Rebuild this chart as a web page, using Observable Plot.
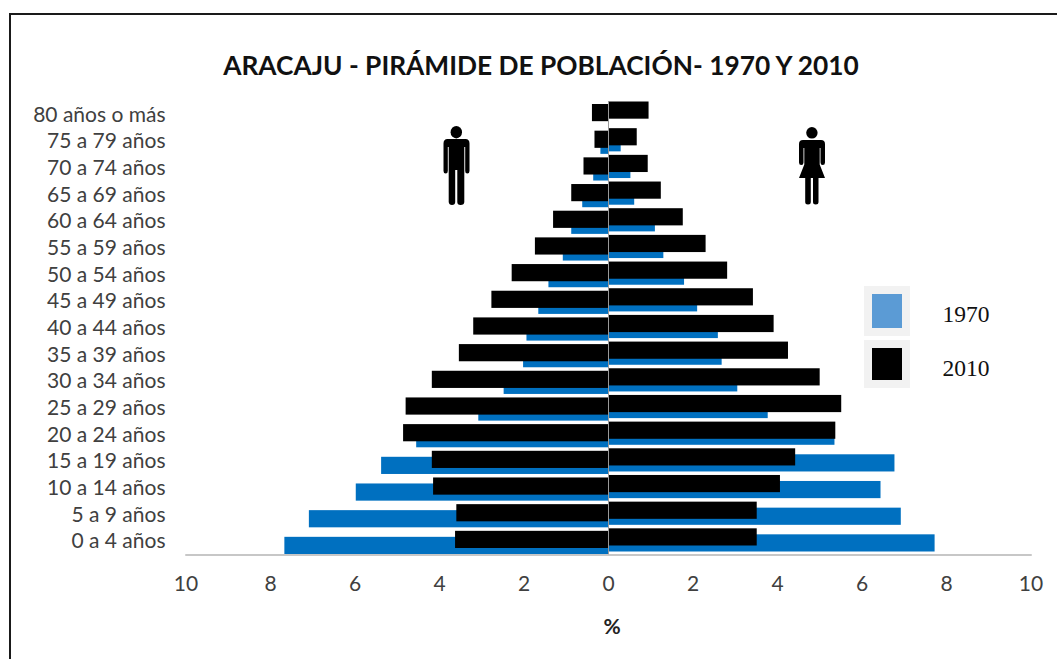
<!DOCTYPE html>
<html><head><meta charset="utf-8">
<script src="https://cdn.jsdelivr.net/npm/d3@7"></script>
<script src="https://cdn.jsdelivr.net/npm/@observablehq/plot@0.6"></script>
<style>
html,body{margin:0;padding:0;background:#fff;}
#wrap{position:relative;width:1057px;height:659px;overflow:hidden;font-family:Lato,sans-serif;}
#wrap svg.plot{position:absolute;left:0;top:0;}
.frame{position:absolute;left:9px;top:13px;width:1060px;height:660px;border:2.5px solid #1a1a1a;box-sizing:border-box;}
.t{position:absolute;white-space:nowrap;transform:translate(-50%,-50%);}
#title{left:541px;top:65px;font-weight:700;font-size:26.3px;color:#111;}
#pct{left:612px;top:625px;font-weight:700;font-size:21px;color:#222;}
.sw{position:absolute;background:#f2f2f2;}
.sw i{position:absolute;display:block;}
.leg{font-family:"Liberation Serif",serif;font-size:23.500px;color:#111;}
.icon{position:absolute;}
</style></head><body>
<div id="wrap"></div>
<script>
const ages = ["80 años o más","75 a 79 años","70 a 74 años","65 a 69 años","60 a 64 años","55 a 59 años","50 a 54 años","45 a 49 años","40 a 44 años","35 a 39 años","30 a 34 años","25 a 29 años","20 a 24 años","15 a 19 años","10 a 14 años","5 a 9 años","0 a 4 años"];
const male1970 = [0,0.18,0.35,0.61,0.87,1.07,1.41,1.65,1.93,2.01,2.47,3.07,4.54,5.37,5.97,7.08,7.66];
const male2010 = [0.38,0.32,0.58,0.87,1.30,1.73,2.28,2.76,3.19,3.53,4.17,4.79,4.85,4.17,4.14,3.59,3.62];
const female1970 = [0,0.30,0.53,0.62,1.11,1.31,1.80,2.11,2.60,2.69,3.06,3.78,5.36,6.78,6.45,6.93,7.73];
const female2010 = [0.96,0.68,0.94,1.25,1.77,2.31,2.82,3.43,3.92,4.26,5.01,5.52,5.38,4.43,4.07,3.52,3.52];
const xTicks = [-10,-8,-6,-4,-2,0,2,4,6,8,10];
const blue = "#0070c0";
const rows = ages.map((age,i)=>({age,m70:-male1970[i],m10:-male2010[i],f70:female1970[i],f10:female2010[i]}));
const chart = Plot.plot({
  width:1057,height:659,
  marginLeft:185.5,marginRight:26.5,marginTop:101,marginBottom:104.5,
  style:{background:"transparent",fontFamily:"Lato,sans-serif"},
  x:{domain:[-10,10]},
  y:{domain:ages,padding:0,round:false},
  marks:[
    Plot.barX(rows,{x:"m70",y:"age",fill:blue,insetTop:9,insetBottom:0.5}),
    Plot.barX(rows,{x:"f70",y:"age",fill:blue,insetTop:6.5,insetBottom:3}),
    Plot.barX(rows,{x:"m10",y:"age",fill:"#000",insetTop:3,insetBottom:6.5}),
    Plot.barX(rows,{x:"f10",y:"age",fill:"#000",insetTop:0.5,insetBottom:9}),
    Plot.ruleX([0],{stroke:"#9a9a9a",strokeWidth:1}),
    Plot.frame({anchor:"bottom",stroke:"#b5b5b5",strokeWidth:1.5}),
    Plot.axisY({tickSize:0,tickPadding:20.5,fontSize:21,color:"#404040",label:null}),
    Plot.axisX({ticks:xTicks,tickSize:0,tickPadding:21,fontSize:21,color:"#404040",label:null,tickFormat:d=>Math.abs(d)})
  ]
});
const w = document.getElementById("wrap");
w.appendChild(chart);
function add(html){w.insertAdjacentHTML("beforeend",html);}
add('<div class="frame"></div>');
add('<div class="t" id="title">ARACAJU - PIRÁMIDE DE POBLACIÓN- 1970 Y 2010</div>');
add('<div class="t" id="pct">%</div>');
add('<div class="sw" style="left:864px;top:286px;width:46px;height:50px"><i style="left:8px;top:8px;width:30px;height:34px;background:#5b9bd5"></i></div>');
add('<div class="sw" style="left:864px;top:340px;width:46px;height:48px"><i style="left:8px;top:8px;width:30px;height:32px;background:#000"></i></div>');
add('<div class="t leg" style="left:966px;top:314px">1970</div>');
add('<div class="t leg" style="left:966px;top:368px">2010</div>');
const man = `<svg class="icon" style="left:443px;top:126px" width="27" height="80" viewBox="0 0 27 80">
<ellipse cx="13.3" cy="6.200" rx="5.700" ry="6.200"/>
<path d="M4.500 13H22.500Q26.500 13 26.500 17.500V45Q26.500 47.500 24.300 47.500Q22.200 47.500 22.200 45V21H21.300V76Q21.300 79 17.500 79Q14.300 79 14.300 76V44H12.200V76Q12.200 79 9 79Q6 79 5.700 76V21H4.800V45Q4.800 47.500 2.700 47.500Q0.500 47.500 0.500 45V17.500Q0.500 13 4.500 13Z"/></svg>`;
const woman = `<svg class="icon" style="left:799px;top:126.500px" width="27" height="78" viewBox="0 0 27 78">
<ellipse cx="12.900" cy="5.800" rx="5.700" ry="5.800"/>
<path d="M4 13H22Q26 13 26 17V35.500Q26 38 23.700 38Q21.500 38 21.500 35.500V21H20.700V37.500L26 51H19.500V75Q19.500 77.500 16.800 77.500Q14 77.500 14 75V51H11.800V75Q11.800 77.500 9 77.500Q6.200 77.500 6.200 75V51H0L5.300 37.500V21H4.500V35.500Q4.500 38 2.300 38Q0 38 0 35.500V17Q0 13 4 13Z"/></svg>`;
add(man);add(woman);
</script>
</body></html>
